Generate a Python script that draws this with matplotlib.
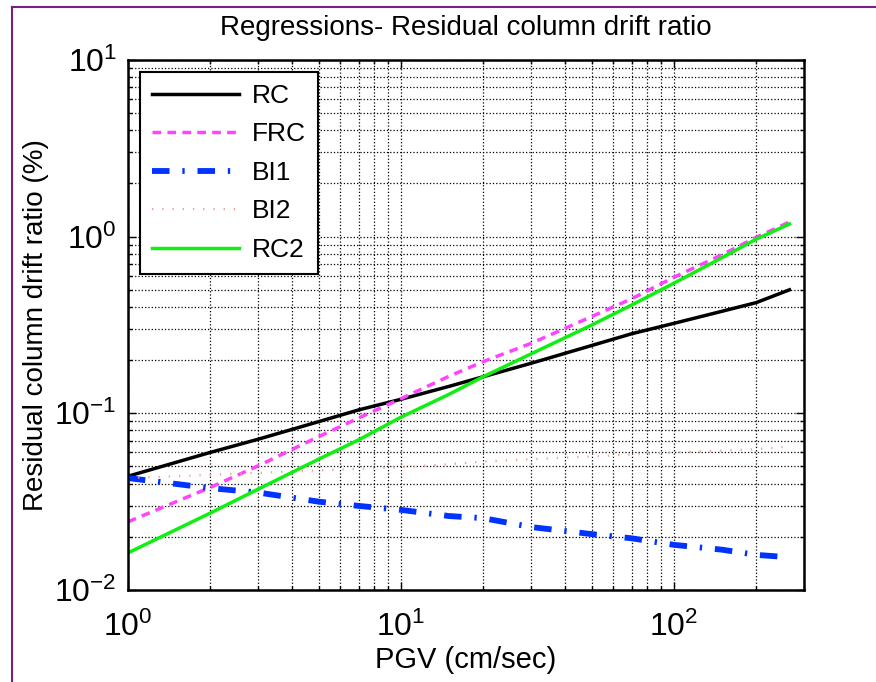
import math
import matplotlib
matplotlib.use("Agg")
import matplotlib.pyplot as plt
from matplotlib.lines import Line2D
from matplotlib.ticker import FuncFormatter

plt.rcParams['font.family'] = ['Liberation Sans', 'DejaVu Sans']
plt.rcParams['mathtext.default'] = 'regular'

# values (PGV in cm/sec, drift in %)
pgv = [1, 2, 3, 5, 7, 10, 15, 20, 30, 50, 70, 100, 150, 200, 265]

rc = [0.044, 0.060, 0.0713, 0.0897, 0.1045, 0.120, 0.142, 0.161, 0.192, 0.242,
      0.282, 0.323, 0.378, 0.423, 0.50]
frc = [0.0243, 0.038, 0.0504, 0.0738, 0.094, 0.121, 0.162, 0.196, 0.249, 0.353,
       0.445, 0.589, 0.79, 0.99, 1.21]
bi1 = [0.043, 0.0377, 0.0356, 0.0316, 0.0299, 0.0284, 0.0262, 0.0255, 0.0227,
       0.0207, 0.0196, 0.0180, 0.0169, 0.0158, 0.0153]
bi2 = [0.043, 0.0448, 0.046, 0.0475, 0.0485, 0.0495, 0.0515, 0.0533, 0.0550,
       0.0569, 0.0585, 0.060, 0.0615, 0.0626, 0.0648]
rc2 = [0.0162, 0.0272, 0.0372, 0.055, 0.0707, 0.095, 0.128, 0.161, 0.217, 0.316,
       0.41, 0.545, 0.76, 0.967, 1.18]

fig = plt.figure(figsize=(8.76, 6.82), dpi=100)
ax = fig.add_axes([0.146, 0.135, 0.772, 0.777])

ax.plot(pgv, rc, color='black', lw=2.5, label='RC')
ax.plot(pgv, frc, color='#ff44ff', lw=2.5, ls=(0, (2.5, 1.8)), label='FRC')
ax.plot(pgv, bi1, color='#0033ff', lw=4.2, ls=(0, (3, 2.2, 0.4, 2.2)), label='BI1')
ax.plot(pgv, bi2, color='#f0a098', lw=1.6, ls=(0, (0.6, 4)), label='BI2')
ax.plot(pgv, rc2, color='#11ee11', lw=2.5, label='RC2')

ax.set_xscale('log')
ax.set_yscale('log')
ax.set_xlim(1, 300)
ax.set_ylim(0.01, 10)

def pow_label(v, pos):
    return '$10^{%d}$' % int(round(math.log10(v)))

ax.xaxis.set_major_formatter(FuncFormatter(pow_label))
ax.yaxis.set_major_formatter(FuncFormatter(pow_label))

ax.grid(True, which='both', color='black', ls=':', lw=0.9)
ax.tick_params(which='both', direction='in', top=True, right=True, labelsize=23)
ax.tick_params(axis='x', pad=16)
ax.tick_params(axis='y', pad=8)
ax.tick_params(which='major', length=6, width=1)
ax.tick_params(which='minor', length=3, width=1)
for s in ax.spines.values():
    s.set_linewidth(1.8)

ax.set_title('Regressions- Residual column drift ratio', fontsize=20, pad=18)
ax.set_xlabel('PGV (cm/sec)', fontsize=21, labelpad=2)
ax.set_ylabel('Residual column drift ratio (%)', fontsize=20, labelpad=4)

leg = ax.legend(loc='upper left', fontsize=19, handlelength=3.3, frameon=True,
                fancybox=False, edgecolor='black', framealpha=1,
                borderaxespad=0.45, labelspacing=0.55, handletextpad=0.5,
                borderpad=0.45)
leg.get_frame().set_linewidth(1.5)

# purple frame from the surrounding page
fig.add_artist(Line2D([12 / 876, 12 / 876], [0, 1 - 7 / 682], color='#7b1f7f', lw=1.5))
fig.add_artist(Line2D([12 / 876, 1], [1 - 7 / 682, 1 - 7 / 682], color='#7b1f7f', lw=1.5))

fig.savefig('out.png', dpi=100)
